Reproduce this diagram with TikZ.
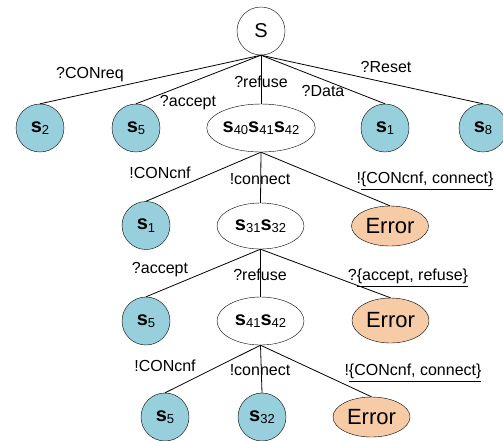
\documentclass[tikz,border=0pt]{standalone}
\usepackage{fontspec}
\setmainfont{Liberation Sans}
\usetikzlibrary{shapes.geometric}
\definecolor{stblue}{HTML}{98CFDC}
\definecolor{errpeach}{HTML}{F8CBA7}
\newcommand\sv[1]{\textbf{s}\raisebox{-0.25ex}{\fontsize{13}{13}\selectfont #1}}
\newcommand\ul[1]{\underline{#1\rule[-5pt]{0pt}{1pt}}}
\tikzset{
  st/.style={circle,draw,fill=stblue,minimum size=48pt,inner sep=0pt,font=\fontsize{20}{20}\selectfont},
  grp/.style={ellipse,draw,fill=white,inner sep=0pt,font=\fontsize{20}{20}\selectfont},
  err/.style={ellipse,draw,fill=errpeach,minimum width=77pt,minimum height=40pt,inner sep=0pt,font=\fontsize{22}{22}\selectfont},
  lab/.style={inner sep=0pt,font=\fontsize{16}{16}\selectfont},
  edge/.style={draw,line width=0.8pt}
}
\begin{document}
\begin{tikzpicture}[x=1pt,y=-1pt]
\useasboundingbox (0,0) rectangle (503,440);
% level 0
\node[circle,draw,fill=white,minimum size=48pt,inner sep=0pt,font=\fontsize{20}{20}\selectfont] (root) at (261,31) {S};
% level 1
\node[st] (a1) at (40,128) {\sv{2}};
\node[st] (a2) at (136,128) {\sv{5}};
\node[grp,minimum width=106pt,minimum height=48pt] (a3) at (261,128) {\sv{40}\sv{41}\sv{42}};
\node[st] (a4) at (385,128) {\sv{1}};
\node[st] (a5) at (483,128) {\sv{8}};
% level 2
\node[st] (b1) at (146,225.5) {\sv{1}};
\node[grp,minimum width=87pt,minimum height=46pt] (b2) at (260.5,226) {\sv{31}\sv{32}};
\node[err] (b3) at (390,226) {Error};
% level 3
\node[st] (c1) at (146,321) {\sv{5}};
\node[grp,minimum width=87pt,minimum height=48pt] (c2) at (260.5,321) {\sv{41}\sv{42}};
\node[err,minimum height=45pt] (c3) at (390.5,320.5) {Error};
% level 4
\node[st] (d1) at (165,417) {\sv{5}};
\node[st] (d2) at (262,417) {\sv{32}};
\node[err] (d3) at (371.5,417) {Error};
% edges
\foreach \c in {a1,a2,a3,a4,a5} \draw[edge] (root.south) -- (\c.north);
\foreach \c in {b1,b2,b3} \draw[edge] (a3.south) -- (\c.north);
\foreach \c in {c1,c2,c3} \draw[edge] (b2.south) -- (\c.north);
\foreach \c in {d1,d2,d3} \draw[edge] (c2.south) -- (\c.north);
% labels
\node[lab] (l1) at (90,75) {?CONreq};
\node[lab] (l2) at (188,103) {?accept};
\node[lab] (l3) at (261,82) {?refuse};
\node[lab] (l4) at (323,91) {?Data};
\node[lab] (l5) at (386,67) {?Reset};
\node[lab] (l6) at (160,173) {!CONcnf};
\node[lab] (l7) at (260,179) {!connect};
\node[lab,anchor=base] (l8) at (425,183) {!\ul{\{CONcnf, connect\}}};
\node[lab] (l9) at (160,270) {?accept};
\node[lab] (l10) at (260,275) {?refuse};
\node[lab,anchor=base] (l11) at (408,280) {?\ul{\{accept, refuse\}}};
\node[lab] (l12) at (165,366) {!CONcnf};
\node[lab] (l13) at (260,370) {!connect};
\node[lab,anchor=base] (l14) at (413,375) {!\ul{\{CONcnf, connect\}}};
\end{tikzpicture}
\end{document}
